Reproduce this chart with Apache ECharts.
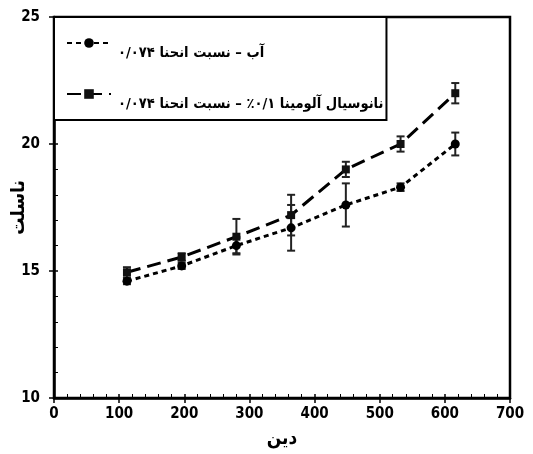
<!DOCTYPE html>
<html><head><meta charset="utf-8">
<script src="https://cdn.jsdelivr.net/npm/echarts@6/dist/echarts.min.js"></script>
<style>html,body{margin:0;padding:0;background:#fff}#c{width:533px;height:454px}</style>
</head><body><div id="c"></div>
<script>
const deanValues = [112, 196, 280, 364, 448, 532, 616];
const nuWater = [14.6, 15.2, 16.0, 16.7, 17.6, 18.3, 20.0];
const errWater = [0.12, 0.12, 0.3, 0.9, 0.85, 0.15, 0.45];
const nuNano = [14.95, 15.55, 16.35, 17.2, 19.0, 20.0, 22.0];
const errNano = [0.2, 0.15, 0.7, 0.8, 0.3, 0.3, 0.4];
const xTicks = [0, 700, 100];
const yTicks = [10, 25, 5];
const nameWater = 'آب – نسبت انحنا ۰/۰۷۴';
const nameNano = 'نانوسیال آلومینا ۰/۱٪ – نسبت انحنا ۰/۰۷۴';
const xTitle = 'دین';
const yTitle = 'ناسلت';

const FONT = "'Liberation Sans Narrow','DejaVu Sans Condensed','DejaVu Sans',sans-serif";
const pts = (ys) => deanValues.map((x, i) => [x, ys[i]]);
const errData = (ys, es) => deanValues.map((x, i) => [x, ys[i] - es[i], ys[i] + es[i]]);

function errSeries(ys, es) {
  return {
    type: 'custom', xAxisIndex: 0, yAxisIndex: 0, z: 1, silent: true,
    data: errData(ys, es),
    renderItem: function (params, api) {
      const lo = api.coord([api.value(0), api.value(1)]);
      const hi = api.coord([api.value(0), api.value(2)]);
      const w = 4;
      const st = { stroke: '#222', lineWidth: 2 };
      return { type: 'group', children: [
        { type: 'line', shape: { x1: lo[0], y1: lo[1], x2: hi[0], y2: hi[1] }, style: st },
        { type: 'line', shape: { x1: lo[0] - w, y1: lo[1], x2: lo[0] + w, y2: lo[1] }, style: st },
        { type: 'line', shape: { x1: hi[0] - w, y1: hi[1], x2: hi[0] + w, y2: hi[1] }, style: st }
      ]};
    }
  };
}

const chart = echarts.init(document.getElementById('c'), null, { renderer: 'canvas' });
const axisLabel = { color: '#000', fontWeight: 'bold', fontSize: 15, fontFamily: FONT };
const titleStyle = { color: '#000', fontWeight: 'bold', fontSize: 19, fontFamily: FONT };
chart.setOption({
  animation: false,
  backgroundColor: '#fff',
  grid: { left: 54, right: 23, top: 17, bottom: 56, containLabel: false, outerBoundsMode: 'none',
    show: true, borderColor: '#000', borderWidth: 2.5, backgroundColor: 'transparent' },
  legend: {
    orient: 'vertical', left: 54, top: 17,
    padding: [8, 3, 8, 12], itemGap: 15, itemWidth: 44, itemHeight: 12,
    borderColor: '#000', borderWidth: 2, backgroundColor: '#fff',
    formatter: function (n) { return '{a|' + n + '}'; },
    textStyle: { color: '#000', fontWeight: 'bold', fontSize: 14.6, fontFamily: FONT,
      rich: { a: { color: '#000', fontWeight: 'bold', fontSize: 14.6, fontFamily: FONT, padding: [21, 0, 0, 2], lineHeight: 18 } } },
    data: [nameWater, nameNano]
  },
  xAxis: [{
    type: 'value', min: xTicks[0], max: xTicks[1], interval: xTicks[2],
    name: xTitle, nameLocation: 'middle', nameGap: 32, nameMoveOverlap: false,
    nameTextStyle: titleStyle,
    axisLine: { show: true, lineStyle: { color: '#000', width: 2.5 } },
    axisTick: { show: true, inside: false, length: 5, lineStyle: { color: '#000', width: 1.5 } },
    minorTick: { show: false },
    axisLabel: Object.assign({ margin: 9 }, axisLabel),
    splitLine: { show: false }
  }, {
    type: 'value', position: 'bottom', min: xTicks[0], max: xTicks[1], interval: xTicks[2],
    axisLine: { show: false }, axisLabel: { show: false }, splitLine: { show: false },
    axisTick: { show: true, inside: true, length: 4, lineStyle: { color: '#000', width: 1.5 } },
    minorTick: { show: true, splitNumber: 5, length: 4, lineStyle: { color: '#000', width: 1 } }
  }],
  yAxis: [{
    type: 'value', min: yTicks[0], max: yTicks[1], interval: yTicks[2],
    name: yTitle, nameLocation: 'middle', nameGap: 25, nameRotate: 90, nameMoveOverlap: false,
    nameTextStyle: titleStyle,
    axisLine: { show: true, lineStyle: { color: '#000', width: 2.5 } },
    axisTick: { show: true, inside: false, length: 5, lineStyle: { color: '#000', width: 1.5 } },
    minorTick: { show: false },
    axisLabel: Object.assign({ margin: 14 }, axisLabel),
    splitLine: { show: false }
  }, {
    type: 'value', position: 'left', min: yTicks[0], max: yTicks[1], interval: yTicks[2],
    axisLine: { show: false }, axisLabel: { show: false }, splitLine: { show: false },
    axisTick: { show: true, inside: true, length: 4, lineStyle: { color: '#000', width: 1.5 } },
    minorTick: { show: true, splitNumber: 5, length: 4, lineStyle: { color: '#000', width: 1 } }
  }],
  series: [
    errSeries(nuWater, errWater),
    errSeries(nuNano, errNano),
    {
      name: nameWater, type: 'line', data: pts(nuWater), z: 3,
      symbol: 'circle', symbolSize: 9,
      itemStyle: { color: '#000' },
      lineStyle: { color: '#000', width: 3, type: [5, 4] }
    },
    {
      name: nameNano, type: 'line', data: pts(nuNano), z: 3,
      symbol: 'rect', symbolSize: 8,
      itemStyle: { color: '#111' },
      lineStyle: { color: '#000', width: 3, type: [14, 7] }
    }
  ]
});
</script></body></html>
